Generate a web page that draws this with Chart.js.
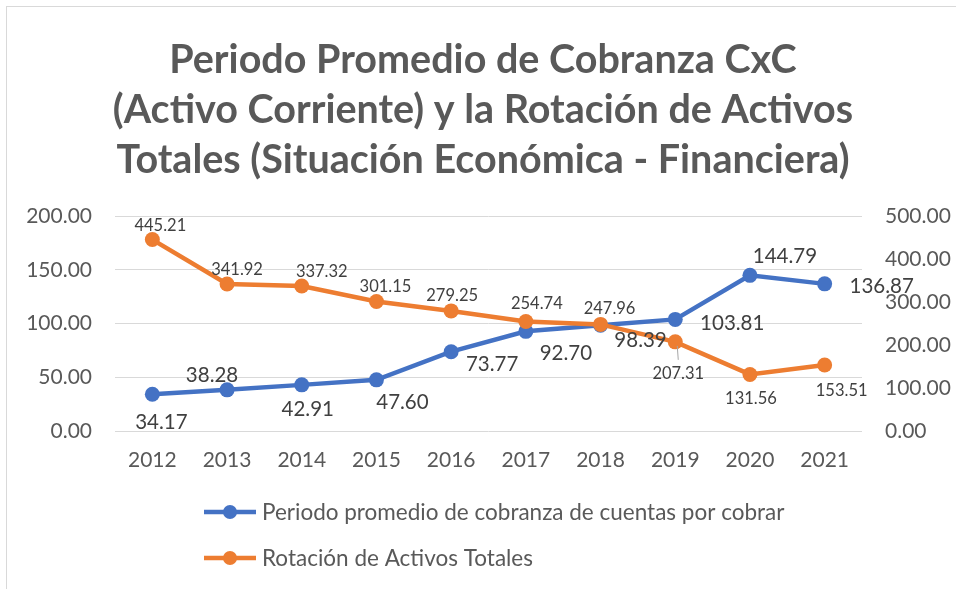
<!DOCTYPE html>
<html>
<head>
<meta charset="utf-8">
<script src="https://cdn.jsdelivr.net/npm/chart.js@4.4.0/dist/chart.umd.min.js"></script>
<style>
html, body { margin: 0; padding: 0; background: #fff; }
#frame { position: absolute; left: 6px; top: 6px; width: 1000px; height: 582px; border-left: 1px solid #d9d9d9; border-top: 1px solid #d9d9d9; }
#wrap { position: absolute; left: 0; top: 0; width: 956px; height: 590px; }
</style>
</head>
<body>
<div id="frame"></div>
<div id="wrap"><canvas id="myChart" width="956" height="590"></canvas></div>
<script>
// data
const years = ['2012', '2013', '2014', '2015', '2016', '2017', '2018', '2019', '2020', '2021'];
const periodoCobranza = [34.17, 38.28, 42.91, 47.60, 73.77, 92.70, 98.39, 103.81, 144.79, 136.87];
const rotacionActivos = [445.21, 341.92, 337.32, 301.15, 279.25, 254.74, 247.96, 207.31, 131.56, 153.51];
const titleLines = ['Periodo Promedio de Cobranza CxC', '(Activo Corriente) y la Rotación de Activos', 'Totales (Situación Económica - Financiera)'];
const seriesNames = ['Periodo promedio de cobranza de cuentas por cobrar', 'Rotación de Activos Totales'];

// where each value label sits relative to its point (dx, dy)
const blueLabelPos = [[9, 28], [-15, -14], [6, 25], [26, 23], [41, 13], [40, 22], [40, 15], [57, 4], [35, -19], [57, 3]];
const orangeLabelPos = [[8, -14], [10, -14], [20, -14], [9, -15], [1, -15], [11, -18], [9, -16], [3, 32], [1, 24], [17, 26]];

const BLUE = '#4472C4';
const ORANGE = '#ED7D31';
const FONT = 'Lato, "Open Sans", sans-serif';

const pointLabels = {
    id: 'pointLabels',
    afterDatasetsDraw(chart) {
        const ctx = chart.ctx;
        ctx.save();
        chart.data.datasets.forEach((ds, i) => {
            const meta = chart.getDatasetMeta(i);
            ctx.font = ds.labelFont;
            ctx.fillStyle = '#404040';
            ctx.textAlign = 'center';
            ctx.textBaseline = 'middle';
            meta.data.forEach((pt, j) => {
                const p = ds.labelPos[j];
                if (ds.leader && ds.leader.includes(j)) {
                    ctx.strokeStyle = '#a6a6a6';
                    ctx.lineWidth = 1;
                    ctx.beginPath();
                    ctx.moveTo(pt.x + 2, pt.y + 4);
                    ctx.lineTo(pt.x + 3, pt.y + 18);
                    ctx.stroke();
                }
                ctx.fillText(ds.data[j].toFixed(2), pt.x + p[0], pt.y + p[1]);
            });
        });
        ctx.restore();
    }
};

const sideLegend = {
    id: 'sideLegend',
    afterDraw(chart) {
        const ctx = chart.ctx;
        ctx.save();
        chart.data.datasets.forEach((ds, i) => {
            const y = 512 + i * 46;
            ctx.strokeStyle = ds.borderColor;
            ctx.lineWidth = 4.5;
            ctx.beginPath();
            ctx.moveTo(204, y);
            ctx.lineTo(256, y);
            ctx.stroke();
            ctx.fillStyle = ds.backgroundColor;
            ctx.beginPath();
            ctx.arc(230, y, 7, 0, Math.PI * 2);
            ctx.fill();
            ctx.font = '22.5px ' + FONT;
            ctx.fillStyle = '#595959';
            ctx.textAlign = 'left';
            ctx.textBaseline = 'middle';
            ctx.fillText(ds.label, 262, y + 1);
        });
        ctx.restore();
    }
};

const ctx = document.getElementById('myChart').getContext('2d');
const mychart = new Chart(ctx, {
    type: 'line',
    data: {
        labels: years,
        datasets: [{
            label: seriesNames[0],
            data: periodoCobranza,
            yAxisID: 'y',
            borderColor: BLUE,
            backgroundColor: BLUE,
            borderWidth: 4.5,
            pointRadius: 7.5,
            pointHoverRadius: 7.5,
            pointBorderWidth: 0,
            order: 2,
            labelPos: blueLabelPos,
            labelFont: '20.5px ' + FONT
        }, {
            label: seriesNames[1],
            data: rotacionActivos,
            yAxisID: 'y1',
            borderColor: ORANGE,
            backgroundColor: ORANGE,
            borderWidth: 4.5,
            pointRadius: 7.5,
            pointHoverRadius: 7.5,
            pointBorderWidth: 0,
            order: 1,
            labelPos: orangeLabelPos,
            labelFont: '16.5px ' + FONT,
            leader: [7]
        }]
    },
    options: {
        responsive: false,
        animation: false,
        layout: { padding: { left: 10, right: 0, top: 0, bottom: 114 } },
        plugins: {
            legend: { display: false },
            tooltip: { enabled: false },
            title: {
                display: true,
                text: titleLines,
                color: '#595959',
                font: { family: FONT, size: 39.5, weight: 'bold', lineHeight: '50px' },
                padding: { top: 35, bottom: 31 }
            }
        },
        scales: {
            x: {
                offset: true,
                grid: { display: false, drawTicks: false },
                border: { display: false },
                ticks: { color: '#595959', font: { family: FONT, size: 21 }, padding: 17, maxRotation: 0 },
                afterFit: s => { s.height = 45; }
            },
            y: {
                position: 'left',
                min: 0, max: 200,
                grid: { color: '#d9d9d9', lineWidth: 1, drawTicks: false },
                border: { display: false },
                ticks: { stepSize: 50, color: '#595959', font: { family: FONT, size: 21 }, padding: 23,
                    callback: v => v.toFixed(2) },
                afterFit: s => { s.width = 105; }
            },
            y1: {
                position: 'right',
                min: 0, max: 500,
                grid: { drawOnChartArea: false, drawTicks: false },
                border: { display: false },
                ticks: { stepSize: 100, color: '#595959', font: { family: FONT, size: 21 }, padding: 23,
                    callback: v => v.toFixed(2) },
                afterFit: s => { s.width = 94; }
            }
        }
    },
    plugins: [pointLabels, sideLegend]
});
</script>
</body>
</html>
